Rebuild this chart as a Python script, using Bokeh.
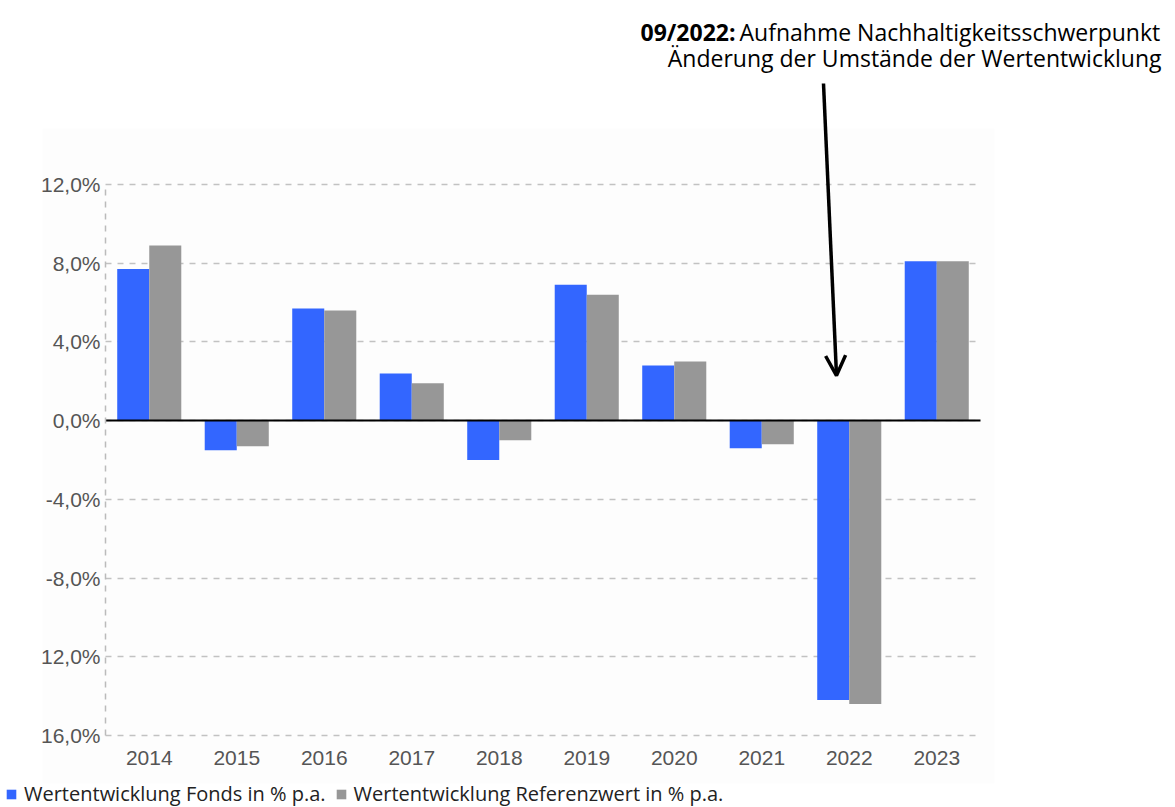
from bokeh.plotting import figure
from bokeh.models import (Range1d, FixedTicker, Label, Arrow, Grid, BoxAnnotation,
                          OpenHead, Legend, LegendItem, ColumnDataSource)
from bokeh.transform import dodge
from bokeh.embed import file_html
from bokeh.resources import INLINE

# ---- data ----
years = ["2014", "2015", "2016", "2017", "2018", "2019", "2020", "2021", "2022", "2023"]
fonds = [7.7, -1.5, 5.7, 2.4, -2.0, 6.9, 2.8, -1.4, -14.2, 8.1]
referenz = [8.9, -1.3, 5.6, 1.9, -1.0, 6.4, 3.0, -1.2, -14.4, 8.1]
y_ticks = [-16, -12, -8, -4, 0, 4, 8, 12]
y_tick_labels = ["16,0%", "12,0%", "-8,0%", "-4,0%", "0,0%", "4,0%", "8,0%", "12,0%"]
legend_labels = ["Wertentwicklung Fonds in % p.a.", "Wertentwicklung Referenzwert in % p.a."]
note_bold = "09/2022:"
note_line1 = "Aufnahme Nachhaltigkeitsschwerpunkt"
note_line2 = "Änderung der Umstände der Wertentwicklung"

BLUE = "#3366ff"
GRAY = "#979797"
TICK_FONT = "Liberation Sans"
TEXT_FONT = "Open Sans"

W, H = 1175, 807
# frame covers whole canvas; chart area: x 105..980 px (10 categories), y 184..735 px (12 .. -16)
PX_X = 87.5
PX_Y = 551 / 28.0
x0 = -105 / PX_X
x1 = 10 + (W - 980) / PX_X
y1 = 12 + 184 / PX_Y
y0 = -16 - (H - 735) / PX_Y

pos = [i + 0.5 for i in range(len(years))]
src = ColumnDataSource(dict(pos=pos, fonds=fonds, referenz=referenz))

p = figure(width=W, height=H, x_range=Range1d(x0, x1), y_range=Range1d(y0, y1),
           output_backend="svg", toolbar_location=None,
           min_border=0, min_border_left=0, min_border_right=0,
           min_border_top=0, min_border_bottom=0)
p.outline_line_color = None
p.background_fill_color = "white"
p.border_fill_color = "white"

# faint chart panel
p.add_layout(BoxAnnotation(left=-63 / PX_X, right=(994 - 105) / PX_X,
                           top=12 + (184 - 128) / PX_Y, bottom=-16 - (783 - 735) / PX_Y,
                           fill_color="#fdfdfd", fill_alpha=1, line_color=None,
                           level="image"))

rf = p.vbar(x=dodge("pos", -0.183), top="fonds", width=0.366,
            source=src, fill_color=BLUE, line_color=None)
rr = p.vbar(x=dodge("pos", 0.183), top="referenz", width=0.366,
            source=src, fill_color=GRAY, line_color=None)

# y axis
yticker = FixedTicker(ticks=y_ticks)
yax = p.yaxis[0]
yax.fixed_location = 0
yax.bounds = (-16, 12)
yax.ticker = yticker
yax.major_label_overrides = dict(zip(y_ticks, y_tick_labels))
yax.major_label_text_font = TICK_FONT
yax.major_label_text_font_size = "21px"
yax.major_label_text_color = "#555555"
yax.axis_line_color = "#bbbbbb"
yax.axis_line_dash = "6 6"
yax.axis_line_width = 1.5
yax.major_tick_line_color = None
yax.minor_tick_line_color = None
yax.major_tick_out = 0
yax.major_tick_in = 0
yax.major_label_standoff = 5

# x axis
xax = p.xaxis[0]
xax.fixed_location = -16
xax.bounds = (0, 10)
xax.ticker = FixedTicker(ticks=pos)
xax.major_label_overrides = dict(zip(pos, years))
xax.axis_line_color = None
xax.major_tick_line_color = None
xax.minor_tick_line_color = None
xax.major_label_text_font = TICK_FONT
xax.major_label_text_font_size = "21px"
xax.major_label_text_color = "#555555"
xax.major_label_standoff = 9

p.xgrid.grid_line_color = None
p.ygrid.ticker = yticker
p.ygrid.grid_line_color = "#c2c2c2"
p.ygrid.grid_line_dash = "6 6"
p.ygrid.grid_line_width = 1.5
p.ygrid.cross_bounds = (0, 10)

# zero line
p.add_layout(Grid(dimension=1, ticker=FixedTicker(ticks=[0]), grid_line_color="black",
                  grid_line_width=2, cross_bounds=(0, 10), level="glyph"))

# annotation arrow and text
p.add_layout(Arrow(end=OpenHead(size=20, line_width=3.5, line_color="black"),
                   x_start=(823 - 105) / PX_X, y_start=(420.1 - 83) / PX_Y,
                   x_end=(836 - 105) / PX_X, y_end=(420.1 - 375) / PX_Y,
                   line_width=3.5, line_color="black"))

p.add_layout(Label(x=735, y=H - 31, x_units="screen", y_units="screen", text=note_bold,
                   text_align="right", text_baseline="alphabetic",
                   text_font=TEXT_FONT, text_font_style="bold",
                   text_font_size="23px", text_color="black"))
p.add_layout(Label(x=739, y=H - 31, x_units="screen", y_units="screen", text=note_line1,
                   text_align="left", text_baseline="alphabetic",
                   text_font=TEXT_FONT, text_font_size="23px", text_color="black"))
p.add_layout(Label(x=1161, y=H - 57, x_units="screen", y_units="screen", text=note_line2,
                   text_align="right", text_baseline="alphabetic",
                   text_font=TEXT_FONT, text_font_size="23px", text_color="black"))

# legend
legend = Legend(items=[LegendItem(label=legend_labels[0], renderers=[rf]),
                       LegendItem(label=legend_labels[1], renderers=[rr])],
                location=(5, 0), orientation="horizontal",
                glyph_width=12, glyph_height=12, label_standoff=7, spacing=9,
                padding=0, margin=0, border_line_alpha=0, background_fill_alpha=0,
                label_text_font=TEXT_FONT, label_text_font_size="20px",
                label_text_color="#222222")
p.add_layout(legend)

open("out.html", "w").write(file_html(p, INLINE))
